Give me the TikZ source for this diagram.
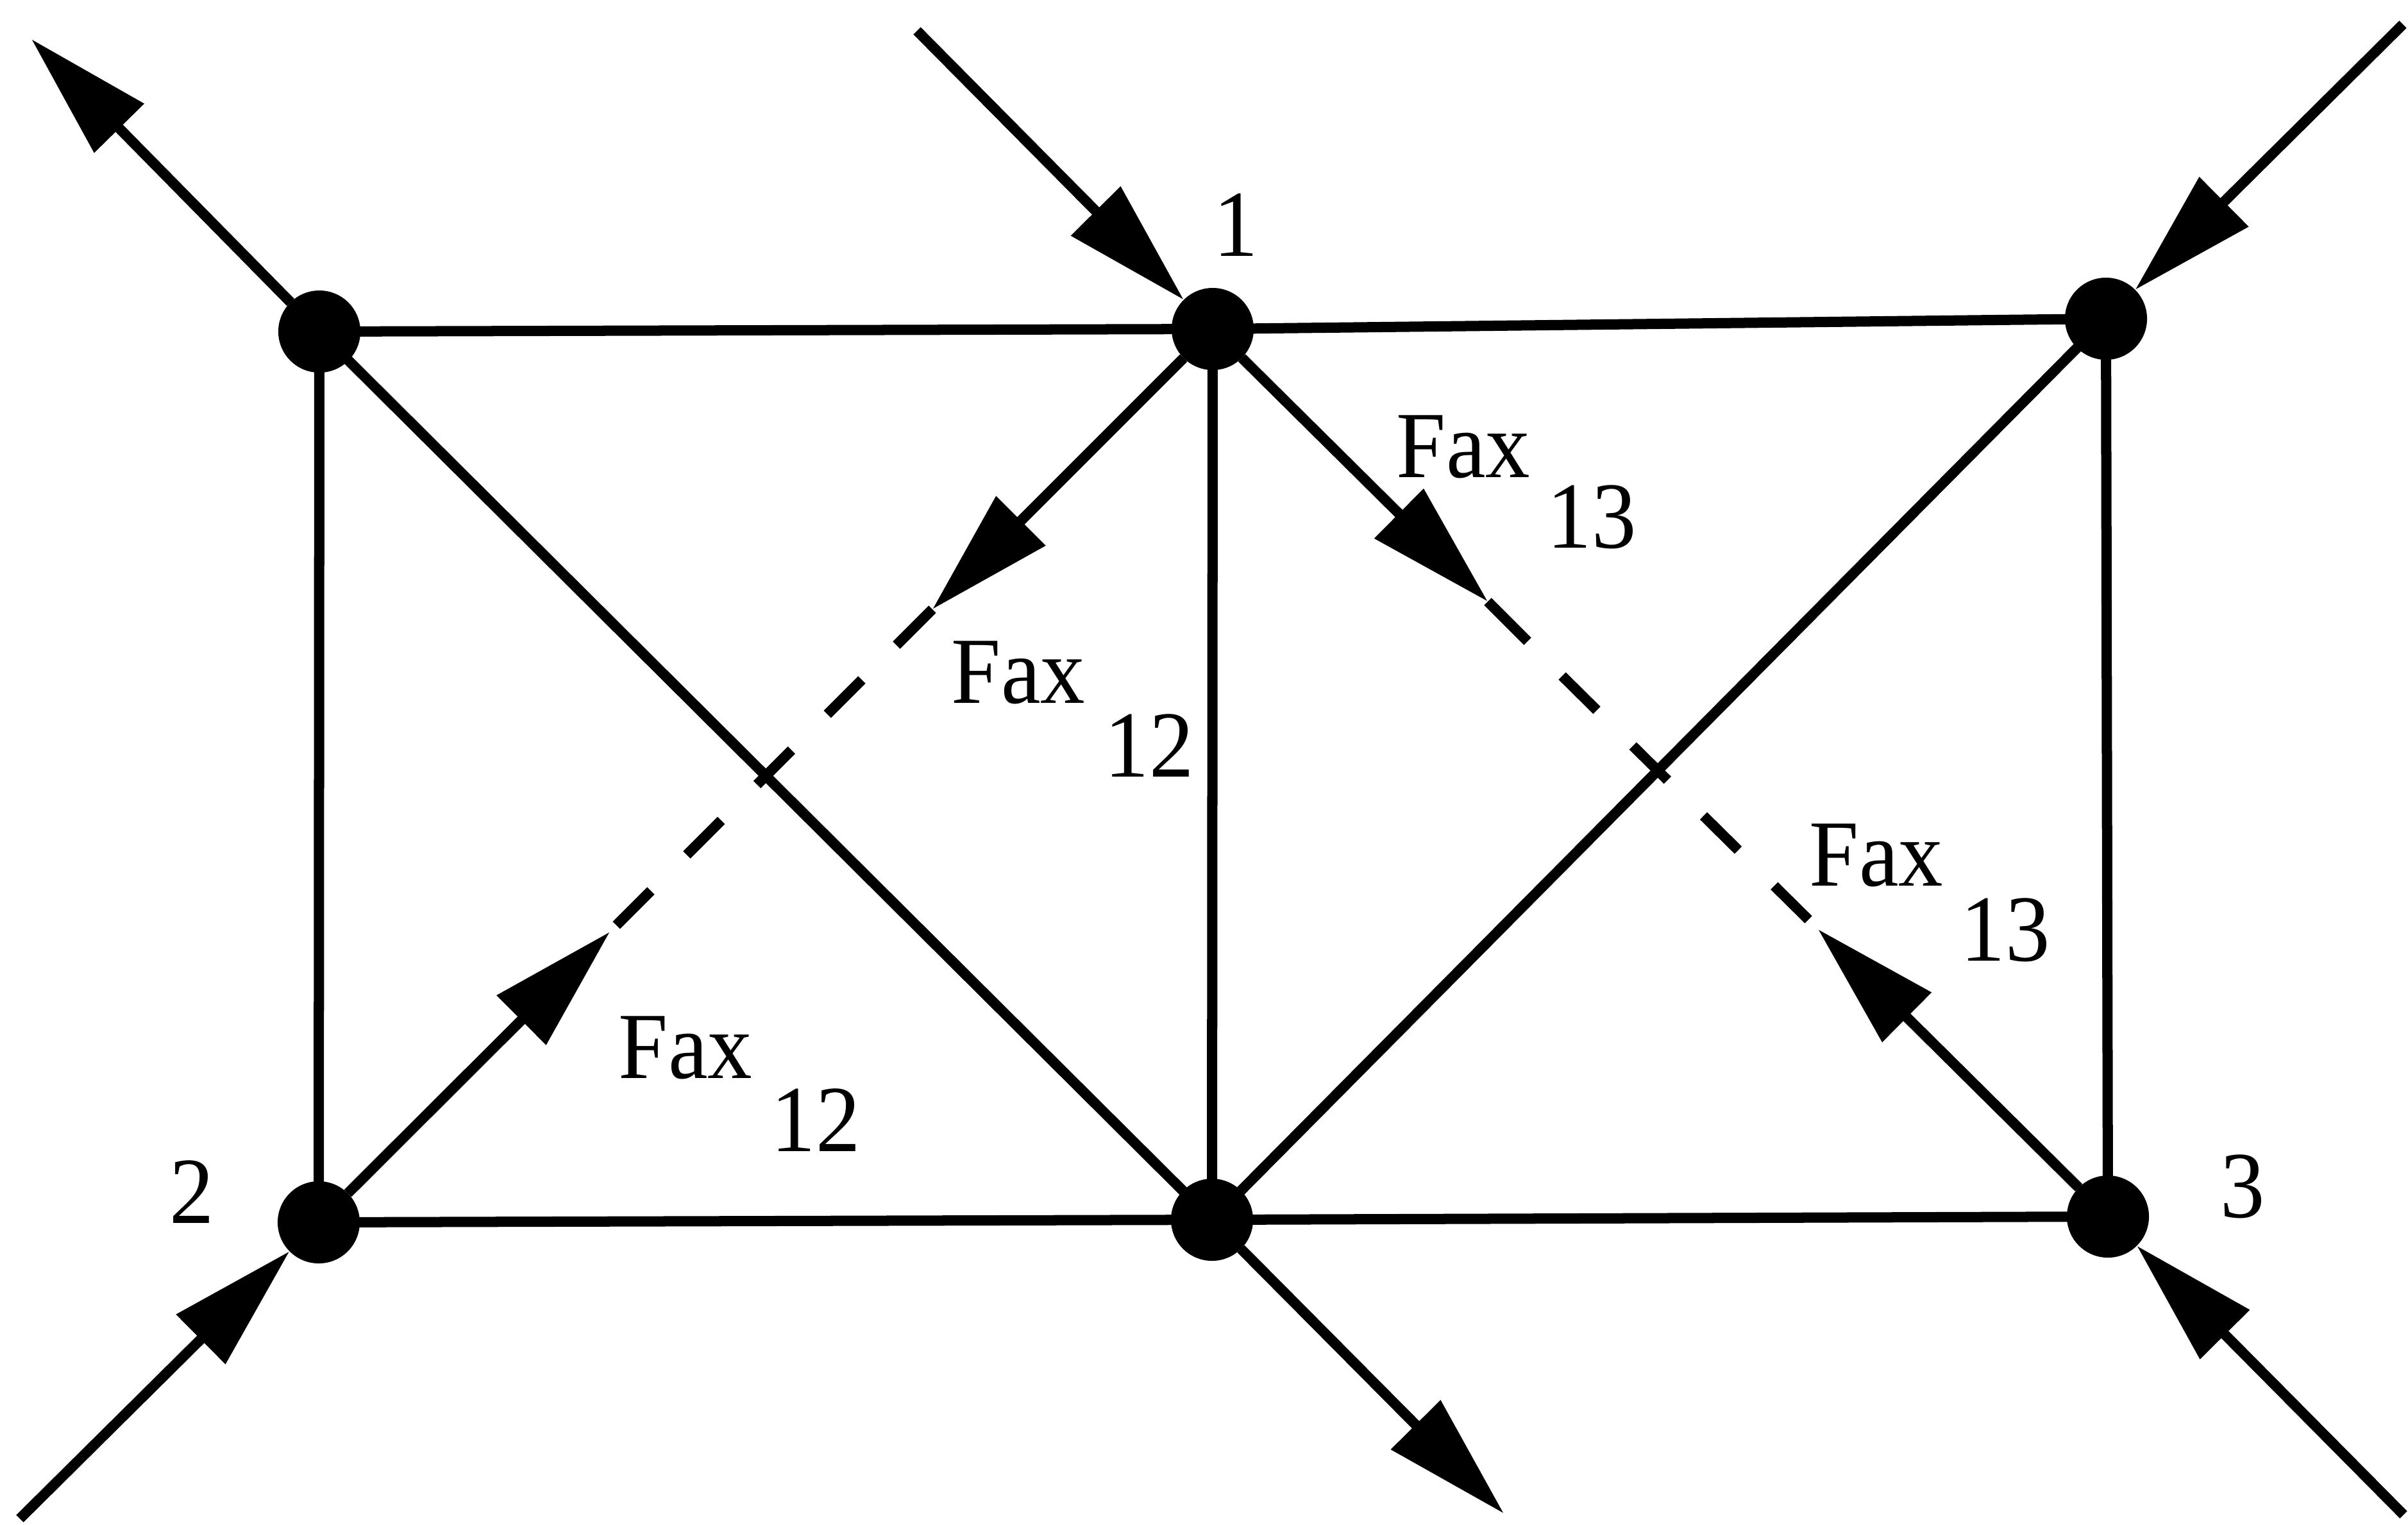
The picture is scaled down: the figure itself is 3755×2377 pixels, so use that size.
\documentclass[tikz,border=0pt]{standalone}
\usepackage{fontspec}
\setmainfont{Liberation Serif}[FakeStretch=0.94]
\usetikzlibrary{arrows.meta}
\begin{document}
\begin{tikzpicture}[x=0.01cm,y=-0.01cm,line width=0.16cm,
  dot/.style={circle,fill=black,inner sep=0pt,outer sep=0pt,minimum size=1.28cm},
  arr/.style={-{Triangle[length=1.95cm,width=1.05cm]}},
  dsh/.style={dash pattern=on 0.76cm off 0.79cm},
  lbl/.style={inner sep=0pt,anchor=base,font=\fontsize{42}{42}\selectfont}]
\useasboundingbox (0,0) rectangle (3755,2377);
% joints
\node[dot] (TL) at (498,517) {};
\node[dot] (N1) at (1891,513) {};
\node[dot] (TR) at (3284,497) {};
\node[dot] (N2) at (497,1906) {};
\node[dot] (BM) at (1890,1902) {};
\node[dot] (N3) at (3287,1897) {};
% free ends
\coordinate (eTL) at (49,61);
\coordinate (sN1) at (1430,48);
\coordinate (sTR) at (3747,38);
\coordinate (sN2) at (31,2368);
\coordinate (eBM) at (2345,2360);
\coordinate (sN3) at (3748,2362);
\coordinate (t12a) at (1454,950);
\coordinate (c12a) at (1398,1006);
\coordinate (d12a) at (1344,1060);
\coordinate (d12b) at (961,1443);
\coordinate (t12b) at (951,1453);
\coordinate (t13a) at (2320,938);
\coordinate (c13a) at (2382,1000);
\coordinate (d13a) at (2436,1054);
\coordinate (d13b) at (2820,1434);
\coordinate (t13b) at (2835,1449);
% frame
\draw (TL.center) -- (N1.center) -- (TR.center) -- (N3.center) -- (BM.center) -- (N2.center) -- (TL.center);
\draw (N1.center) -- (BM.center);
\draw (TL.center) -- (BM.center) -- (TR.center);
% diagonal 1-2
\draw[arr] (N1) -- (t12a);
\draw (t12a) -- (c12a);
\draw[dsh] (d12a) -- (d12b);
\draw[arr] (N2) -- (t12b);
% diagonal 1-3
\draw[arr] (N1) -- (t13a);
\draw (t13a) -- (c13a);
\draw[dsh] (d13a) -- (d13b);
\draw[arr] (N3) -- (t13b);
% external forces
\draw[arr] (TL) -- (eTL);
\draw[arr] (sN1) -- (N1);
\draw[arr] (sTR) -- (TR);
\draw[arr] (sN2) -- (N2);
\draw[arr] (BM) -- (eBM);
\draw[arr] (sN3) -- (N3);
% labels
\node[lbl] (l1) at (1927,399) {1};
\node[lbl] (l2) at (299,1907) {2};
\node[lbl] (l3) at (3497,1898) {3};
\node[lbl] (f12a) at (1588,1096) {Fax};
\node[lbl] (s12a) at (1792,1211) {12};
\node[lbl] (f12b) at (1069,1681) {Fax};
\node[lbl] (s12b) at (1272,1795) {12};
\node[lbl] (f13a) at (2282,744) {Fax};
\node[lbl] (s13a) at (2482,854) {13};
\node[lbl] (f13b) at (2926,1381) {Fax};
\node[lbl] (s13b) at (3127,1498) {13};
\end{tikzpicture}
\end{document}
